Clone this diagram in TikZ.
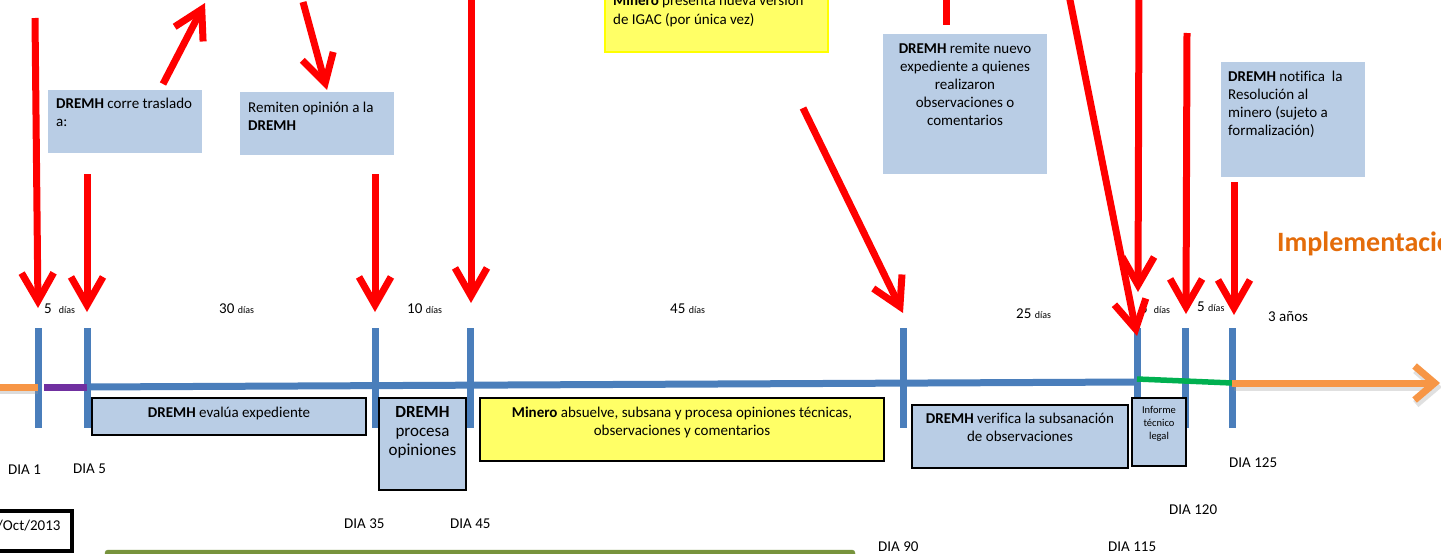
\documentclass[tikz,border=0pt]{standalone}
\usepackage{fontspec}
\setmainfont{Carlito}[Ligatures=NoCommon]
\usetikzlibrary{arrows.meta,calc}
\definecolor{tickblue}{HTML}{4A7EBB}
\definecolor{boxblue}{HTML}{B9CDE5}
\definecolor{lineorange}{HTML}{F79646}
\definecolor{impl}{HTML}{E46C0A}
\definecolor{purp}{HTML}{7030A0}
\definecolor{grn}{HTML}{00B050}
\definecolor{olive}{HTML}{77933C}
\definecolor{ylw}{HTML}{FFFF66}
\definecolor{ylwborder}{HTML}{FFFF00}
\newcommand{\dias}{{\fontsize{10}{12}\selectfont días}}
\begin{document}
\begin{tikzpicture}[x=1pt,y=-1pt,
  tick/.style={draw=tickblue, line width=7pt},
  rarrow/.style={draw=red, line width=7pt, -{Straight Barb[length=28pt,width=32pt]}},
  topbox/.style={fill=boxblue, draw=none, anchor=north west, inner sep=0pt, outer sep=0pt},
  lowbox/.style={fill=boxblue, draw=black, line width=2pt, anchor=north west, inner sep=0pt, outer sep=0pt},
  lowyellow/.style={fill=ylw, draw=black, line width=2pt, anchor=north west, inner sep=0pt, outer sep=0pt},
  txt/.style={inner sep=0pt, font=\fontsize{15}{18.5}\selectfont, align=left},
  ctxt/.style={inner sep=0pt, font=\fontsize{15}{18.5}\selectfont, align=center},
  lbl/.style={inner sep=0pt, anchor=base west, font=\fontsize{15}{18}\selectfont},
]
\useasboundingbox (0,0) rectangle (1441,554);
\clip (0,0) rectangle (1441,554);
\fill[white] (0,0) rectangle (1441,554);

% ticks
\foreach \x in {38,87,375,470,903,1137,1185,1232}
  \draw[tick] (\x,328) -- (\x,428);

% timeline
\draw[black!40, opacity=0.35, line width=8pt] (-5,390) -- (38,390);
\draw[lineorange, line width=7pt] (-5,387) -- (38,387);
\draw[purp, line width=7pt] (44,387) -- (87,387);
\draw[tickblue, line width=7pt] (87,387) -- (1137,382);
\draw[grn, line width=5.5pt] (1137,379) -- (1232,383);
\draw[black!40, opacity=0.3, line width=8pt, -{Straight Barb[length=20pt,width=34pt]}] (1234,387) -- (1442,387);
\draw[lineorange, line width=7pt, -{Straight Barb[length=20pt,width=34pt]}] (1232,383) -- (1440,383);

% top boxes
\node[topbox, minimum width=154pt, minimum height=63pt] (b1) at (48,90) {};
\node[txt, anchor=north west] (b1t) at (56,95) {\strut\textbf{DREMH} corre traslado\\a:};
\node[topbox, minimum width=154pt, minimum height=63pt] (b2) at (240,92) {};
\node[txt, anchor=north west] (b2t) at (248,99) {\strut Remiten opinión a la\\\textbf{DREMH}};
\node[fill=ylw, draw=ylwborder, line width=1.5pt, anchor=north west, inner sep=0pt, minimum width=223pt, minimum height=71pt] (b3) at (604,-20) {};
\node[txt, anchor=north west] (b3t) at (613,-7.5) {\strut\textbf{Minero} presenta nueva versión\\de IGAC (por única vez)};
\node[topbox, minimum width=164pt, minimum height=140pt] (b4) at (883,34) {};
\node[ctxt, font=\fontsize{15}{18}\selectfont, anchor=north] (b4t) at (965,40.4) {\strut\textbf{DREMH} remite nuevo\\expediente a quienes\\realizaron\\observaciones o\\comentarios};
\node[topbox, minimum width=144pt, minimum height=115pt] (b5) at (1221,62) {};
\node[txt, font=\fontsize{15}{18}\selectfont, anchor=north west] (b5t) at (1228,68.4) {\strut\textbf{DREMH} notifica\ \ la\\Resolución al\\minero (sujeto a\\formalización)};

% lower boxes
\node[lowbox, minimum width=274pt, minimum height=37pt] (e1) at (92,398) {};
\node[ctxt, anchor=north] (e1t) at (229,404) {\strut\textbf{DREMH} evalúa expediente};
\node[lowbox, minimum width=87pt, minimum height=92pt] (e2) at (379,398) {};
\node[ctxt, font=\fontsize{17}{19}\selectfont, anchor=north] (e2t) at (422.5,403.7) {\strut\textbf{DREMH}\\procesa\\opiniones};
\node[lowyellow, minimum width=404pt, minimum height=63pt] (e3) at (480,398) {};
\node[ctxt, anchor=north] (e3t) at (682,404) {\strut\textbf{Minero} absuelve, subsana y procesa opiniones técnicas,\\observaciones y comentarios};
\node[lowbox, minimum width=216pt, minimum height=63pt] (e4) at (912,405) {};
\node[ctxt, anchor=north] (e4t) at (1020,410) {\strut\textbf{DREMH} verifica la subsanación\\de observaciones};
\node[lowbox, minimum width=54pt, minimum height=68pt] (e5) at (1132,398) {};
\node[ctxt, font=\fontsize{10.5}{13}\selectfont, anchor=north] (e5t) at (1159,403.9) {\strut Informe\\técnico\\legal};

% date box and bottom bar
\node[draw=black, line width=4pt, anchor=north west, inner sep=0pt, minimum width=82pt, minimum height=40pt] (oct) at (-12,509) {};
\node[lbl] (octt) at (-3,530) {/Oct/2013};
\draw[olive, fill=olive, rounded corners=3pt] (105,550) rectangle (855,580);

% day labels
\node[lbl] (d1) at (44,313) {5\hspace{7pt}\dias};
\node[lbl] (d2) at (219,313) {30 \dias};
\node[lbl] (d3) at (407,313) {10 \dias};
\node[lbl] (d4) at (670,313) {45 \dias};
\node[lbl] (d5) at (1016,318) {25 \dias};
\node[lbl] (d6) at (1140,313) {5\hspace{6pt}\dias};
\node[lbl] (d7) at (1197,311) {5 \dias};
\node[lbl] (d8) at (1268,321) {3 años};
\node[anchor=base west, inner sep=0pt, font=\fontsize{28}{30}\selectfont\bfseries, text=impl] (implt) at (1277,251) {Implementación};

% DIA labels
\node[lbl] (L1) at (8,474) {DIA 1};
\node[lbl] (L5) at (73,473) {DIA 5};
\node[lbl] (L35) at (344,528) {DIA 35};
\node[lbl] (L45) at (450,528) {DIA 45};
\node[lbl] (L90) at (878,551) {DIA 90};
\node[lbl] (L115) at (1108,551) {DIA 115};
\node[lbl] (L120) at (1169,514) {DIA 120};
\node[lbl] (L125) at (1229,467) {DIA 125};

% arrow coordinates
\coordinate (a1s) at (35,18);   \coordinate (a1e) at (38,308);
\coordinate (a2s) at (87,174);  \coordinate (a2e) at (87,312);
\coordinate (a3s) at (163,84);  \coordinate (a3e) at (205,3);
\coordinate (a4s) at (303,2);   \coordinate (a4e) at (327,90);
\coordinate (a5s) at (375,174); \coordinate (a5e) at (375,312);
\coordinate (a6s) at (471,-5);  \coordinate (a6e) at (471,303);
\coordinate (a7s) at (946,-5);  \coordinate (a7e) at (946,25);
\coordinate (a8s) at (803,108); \coordinate (a8e) at (903,313);
\coordinate (a9s) at (1069,-5); \coordinate (a9e) at (1137,336);
\coordinate (a10s) at (1139,-5); \coordinate (a10e) at (1138,292);
\coordinate (a11s) at (1187,33); \coordinate (a11e) at (1186,314);
\coordinate (a12s) at (1234,182); \coordinate (a12e) at (1234,315);

% red arrows
\draw[rarrow] (a1s) -- (a1e);
\draw[rarrow] (a2s) -- (a2e);
\draw[rarrow] (a3s) -- (a3e);
\draw[rarrow] (a4s) -- (a4e);
\draw[rarrow] (a5s) -- (a5e);
\draw[rarrow] (a6s) -- (a6e);
\draw[red, line width=7pt] (a7s) -- (a7e);
\draw[rarrow] (a8s) -- (a8e);
\draw[rarrow] (a9s) -- (a9e);
\draw[rarrow] (a10s) -- (a10e);
\draw[rarrow] (a11s) -- (a11e);
\draw[rarrow] (a12s) -- (a12e);
\end{tikzpicture}
\end{document}
